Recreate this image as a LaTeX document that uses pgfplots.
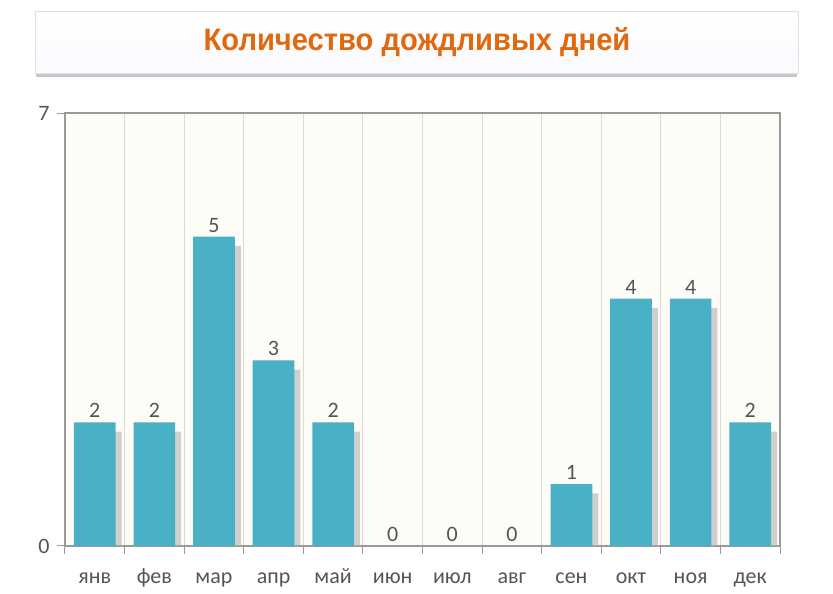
\documentclass[border=0pt]{standalone}
\usepackage{pgfplots}
\pgfplotsset{compat=1.18}
\usepackage{fontspec}
\setmainfont{Carlito}
\newfontfamily\titlefont{Liberation Sans}
\definecolor{barc}{HTML}{4AB0C5}
\definecolor{titlec}{HTML}{E0680F}
\definecolor{bgc}{HTML}{FDFCF7}
\definecolor{txtc}{HTML}{555555}
\definecolor{gridc}{HTML}{DAD9D2}
\definecolor{axc}{HTML}{9A9A9A}
\begin{document}
\begin{tikzpicture}[x=1pt,y=1pt]
\fill[white] (0,0) rectangle (833,594);
% title box
\fill[black!22] (36,517) rectangle (797,524);
\shade[top color=white, bottom color=black!5!blue!2] (35,521) rectangle (798,583);
\draw[black!12] (35,521) rectangle (798,583);
\node[font=\titlefont\bfseries\fontsize{31}{34}\selectfont, text=titlec, xscale=0.94] at (417,552) {Количество дождливых дней};
\begin{axis}[
  at={(65pt,48pt)}, anchor=south west,
  scale only axis, width=715pt, height=433pt,
  xmin=-0.5, xmax=11.5, ymin=0, ymax=7,
  axis background/.style={fill=bgc},
  /pgf/number format/assume math mode=true,
  ybar, bar width=0.7,
  xtick={0,...,11},
  xticklabels={янв,фев,мар,апр,май,июн,июл,авг,сен,окт,ноя,дек},
  minor xtick={-0.5,0.5,...,11.5},
  xminorgrids=true,
  minor x grid style={gridc, line width=1pt},
  ytick={0,7},
  xtick pos=bottom, ytick pos=left,
  tick align=outside,
  major tick length=8pt, minor tick length=8pt,
  every major x tick/.style={draw=none},
  every minor x tick/.style={draw=axc, line width=1pt},
  every major y tick/.style={draw=axc, line width=1pt},
  axis line style={draw=axc, line width=1.6pt},
  tick label style={font=\fontsize{22}{24}\selectfont, text=txtc},
  xticklabel style={anchor=base, yshift=-30pt},
  yticklabel style={xshift=-4pt},
  clip=false,
]
\addplot[bar shift=6pt, fill=black!30, draw=none, opacity=0.6]
  coordinates {(0,1.85) (1,1.85) (2,4.85) (3,2.85) (4,1.85) (8,0.85) (9,3.85) (10,3.85) (11,1.85)};
\addplot[bar shift=0pt, fill=barc, draw=none,
  nodes near coords,
  nodes near coords style={font=\fontsize{22}{24}\selectfont, text=txtc, yshift=1pt}]
  coordinates {(0,2) (1,2) (2,5) (3,3) (4,2) (5,0) (6,0) (7,0) (8,1) (9,4) (10,4) (11,2)};
\end{axis}
\end{tikzpicture}
\end{document}
